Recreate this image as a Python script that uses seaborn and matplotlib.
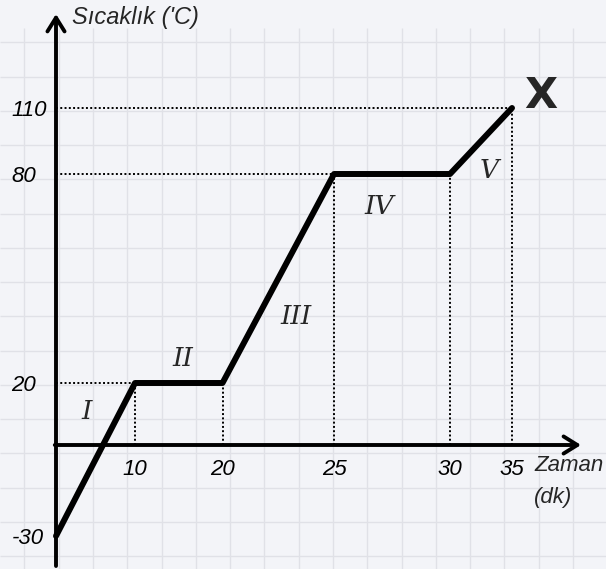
import numpy as np
import matplotlib
matplotlib.use("Agg")
import matplotlib.pyplot as plt
import seaborn as sns
import pandas as pd

# ---- data ----
TIME = [0, 10, 20, 25, 30, 35]
TEMP = [-30, 20, 20, 80, 80, 110]
X_TICKS = [10, 20, 25, 30, 35]
Y_TICKS = [-30, 20, 80, 110]
PHASES = ["I", "II", "III", "IV", "V"]
X_LABEL = ["Zaman", "(dk)"]
Y_LABEL = "Sıcaklık ('C)"

# ---- layout (pixel anchors of the hand-drawn, non-uniform axes) ----
W, H = 606, 569
X_ANCHOR_VAL = [0, 10, 20, 25, 30, 35]
X_ANCHOR_PX = [56, 135, 222.5, 334, 450, 512]
Y_ANCHOR_VAL = [-30, 0, 20, 80, 110]
Y_ANCHOR_PX = [536, 445, 383, 174, 108]
PHASE_POS_PX = [(87, 411), (183, 358), (296, 316), (379, 206), (489, 170)]

BG = "#f3f4f8"
GRID = "#e0e1e7"
FONT = ["Liberation Sans", "DejaVu Sans"]


def piecewise(xp, fp):
    xp = np.asarray(xp, float)
    fp = np.asarray(fp, float)
    s0 = (fp[1] - fp[0]) / (xp[1] - xp[0])
    s1 = (fp[-1] - fp[-2]) / (xp[-1] - xp[-2])

    def f(x):
        x = np.asarray(x, float)
        y = np.interp(x, xp, fp)
        y = np.where(x < xp[0], fp[0] + (x - xp[0]) * s0, y)
        y = np.where(x > xp[-1], fp[-1] + (x - xp[-1]) * s1, y)
        return y
    return f


fx = piecewise(X_ANCHOR_VAL, X_ANCHOR_PX)
fx_inv = piecewise(X_ANCHOR_PX, X_ANCHOR_VAL)
neg_y_px = [-p for p in Y_ANCHOR_PX]
fy = piecewise(Y_ANCHOR_VAL, neg_y_px)
fy_inv = piecewise(neg_y_px, Y_ANCHOR_VAL)

sns.set_theme(style="white")
plt.rcParams["font.family"] = FONT

fig = plt.figure(figsize=(W / 100, H / 100), dpi=100)
fig.patch.set_facecolor(BG)

# background graph paper (pixel coordinates)
bg = fig.add_axes([0, 0, 1, 1])
bg.set_xlim(0, W)
bg.set_ylim(H, 0)
bg.set_facecolor(BG)
bg.axis("off")
xs = np.arange(24.3, W, 34.3)
ys = np.arange(42.3, H, 34.25)
bg.vlines(xs, 28, H, color=GRID, lw=1.0, zorder=0)
bg.hlines(ys, 0, W, color=GRID, lw=1.0, zorder=0)

# main axes with the chart's own non-uniform scales
ax = fig.add_axes([0, 0, 1, 1])
ax.patch.set_alpha(0)
ax.set_xscale("function", functions=(fx, fx_inv))
ax.set_yscale("function", functions=(fy, fy_inv))
ax.set_xlim(float(fx_inv(0)), float(fx_inv(W)))
ax.set_ylim(float(fy_inv(-H)), float(fy_inv(0)))
for s in ax.spines.values():
    s.set_visible(False)
ax.spines["left"].set_position(("data", 0))
ax.spines["bottom"].set_position(("data", 0))
ax.grid(False)
ax.minorticks_off()

# dotted guide lines
dot = dict(color="black", lw=1.4, linestyle=(0, (1, 1.2)), zorder=2)
for t, v in zip(TIME[1:], TEMP[1:]):
    ax.plot([t, t], [0, v], **dot)
for y in Y_TICKS:
    if y > 0:
        t_first = TIME[TEMP.index(y)]
        ax.plot([0, t_first], [y, y], **dot)

# heating curve
df = pd.DataFrame({"t": TIME, "T": TEMP})
sns.lineplot(data=df, x="t", y="T", ax=ax, color="black", lw=4.3,
             sort=False, estimator=None, zorder=4)
ax.set_xlabel("")
ax.set_ylabel("")

# axis arrows
arrow = dict(arrowstyle="->,head_length=0.45,head_width=0.28", lw=2.8,
             color="black", shrinkA=0, shrinkB=0, mutation_scale=22)
ax.annotate("", xy=(0, 1 - 14 / H), xytext=(0, 1 - 566 / H),
            xycoords=ax.get_xaxis_transform(), textcoords=ax.get_xaxis_transform(),
            arrowprops=arrow, zorder=3)
ax.annotate("", xy=(581 / W, 0), xytext=(X_ANCHOR_PX[0] / W - 0.002, 0),
            xycoords=ax.get_yaxis_transform(), textcoords=ax.get_yaxis_transform(),
            arrowprops=arrow, zorder=3)

# ticks
ax.set_xticks(X_TICKS)
ax.set_xticklabels([str(v) for v in X_TICKS])
ax.set_yticks(Y_TICKS)
ax.set_yticklabels([str(v) for v in Y_TICKS])
ax.tick_params(axis="both", length=0, labelsize=16, colors="black")
ax.tick_params(axis="x", pad=10)
ax.tick_params(axis="y", pad=32)
for lab in ax.get_xticklabels() + ax.get_yticklabels():
    lab.set_fontstyle("italic")
for lab in ax.get_yticklabels():
    lab.set_horizontalalignment("left")

# axis titles
bg.text(72, 17, Y_LABEL, fontsize=17, style="italic", ha="left", va="center")
bg.text(534, 465, X_LABEL[0], fontsize=16, style="italic", ha="left", va="center")
bg.text(534, 497, X_LABEL[1], fontsize=16, style="italic", ha="left", va="center")

# phase labels
for name, (px, py) in zip(PHASES, PHASE_POS_PX):
    bg.text(px, py, name, fontsize=19, style="italic", ha="center", va="center",
            family=["DejaVu Serif"])

# end mark
bg.text(541, 96, "X", fontsize=31, fontweight="bold", ha="center", va="center",
        family=["DejaVu Sans"])

fig.savefig("out.png", dpi=100, facecolor=BG)
